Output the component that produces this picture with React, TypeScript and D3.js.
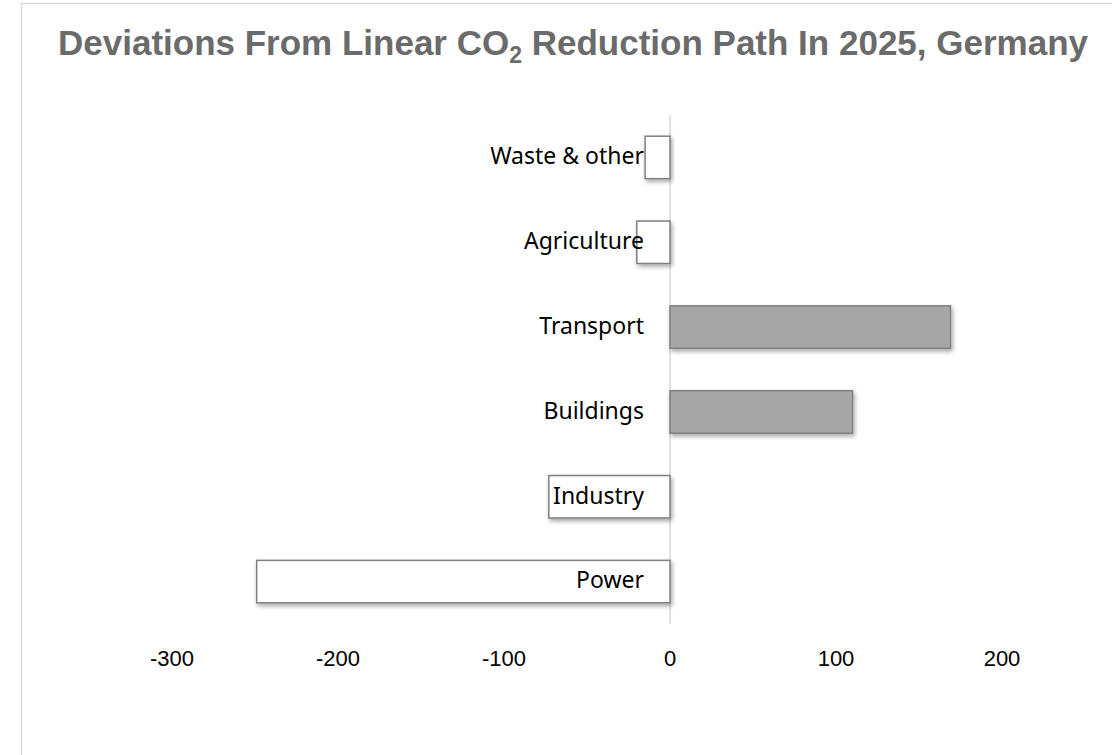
import React, { useEffect, useRef } from 'react';
import * as d3 from 'd3';

const categories = ['Waste & other', 'Agriculture', 'Transport', 'Buildings', 'Industry', 'Power'];
const deviations = [-15, -20, 169, 110, -73, -249];
const tickValues = [-300, -200, -100, 0, 100, 200];

const W = 1112;
const H = 755;

export default function App() {
    const svgRef = useRef<SVGSVGElement>(null);

    useEffect(() => {
        if (!svgRef.current) return;
        const svg = d3.select(svgRef.current);
        svg.selectAll('*').remove();

        const defs = svg.append('defs');
        defs.append('filter')
            .attr('id', 'shadow')
            .attr('x', '-20%').attr('y', '-30%').attr('width', '140%').attr('height', '170%')
            .append('feDropShadow')
            .attr('dx', 1.5).attr('dy', 2.5)
            .attr('stdDeviation', 2)
            .attr('flood-color', '#000')
            .attr('flood-opacity', 0.35);

        // chart frame
        svg.append('rect')
            .attr('x', 21.5).attr('y', 3.5)
            .attr('width', W + 20).attr('height', H + 20)
            .attr('fill', '#fff')
            .attr('stroke', '#d9d9d9')
            .attr('stroke-width', 1.5);

        // title
        const title = svg.append('text')
            .attr('x', 573).attr('y', 55)
            .attr('text-anchor', 'middle')
            .attr('font-family', 'Liberation Sans, Arial, sans-serif')
            .attr('font-weight', 'bold')
            .attr('font-size', 35)
            .attr('fill', '#6b6b6b');
        title.append('tspan').text('Deviations From Linear CO');
        title.append('tspan').attr('font-size', 23).attr('dy', 8).text('2');
        title.append('tspan').attr('dy', -8).text(' Reduction Path In 2025, Germany');

        const x = d3.scaleLinear().domain([-300, 200]).range([172, 1002]);
        const y = d3.scaleBand().domain(categories).range([115, 624]).paddingInner(0.5).paddingOuter(0.25);

        // zero line
        svg.append('line')
            .attr('x1', x(0)).attr('x2', x(0))
            .attr('y1', 115).attr('y2', 624)
            .attr('stroke', '#d9d9d9')
            .attr('stroke-width', 1.5);

        // bars
        svg.append('g')
            .selectAll('rect')
            .data(categories.map((c, i) => ({ c, v: deviations[i] })))
            .join('rect')
            .attr('x', d => x(Math.min(0, d.v)))
            .attr('y', d => y(d.c)!)
            .attr('width', d => Math.abs(x(d.v) - x(0)))
            .attr('height', y.bandwidth())
            .attr('fill', d => d.v > 0 ? '#a6a6a6' : '#ffffff')
            .attr('stroke', '#808080')
            .attr('stroke-width', 1.5)
            .attr('filter', 'url(#shadow)');

        // category labels
        svg.append('g')
            .selectAll('text')
            .data(categories)
            .join('text')
            .attr('x', x(0) - 26)
            .attr('y', d => y(d)! + y.bandwidth() / 2)
            .attr('dy', '0.3em')
            .attr('text-anchor', 'end')
            .attr('font-family', 'Noto Sans, sans-serif')
            .attr('font-size', 23)
            .attr('fill', '#000')
            .text(d => d);

        // x tick labels
        svg.append('g')
            .selectAll('text')
            .data(tickValues)
            .join('text')
            .attr('x', d => x(d))
            .attr('y', 666)
            .attr('text-anchor', 'middle')
            .attr('font-family', 'Liberation Sans, Arial, sans-serif')
            .attr('font-size', 22)
            .attr('fill', '#000')
            .text(d => String(d));
    }, []);

    return (
        <svg
            ref={svgRef}
            width={W}
            height={H}
            style={{ position: 'absolute', left: 0, top: 0, background: '#fff' }}
        />
    );
}
